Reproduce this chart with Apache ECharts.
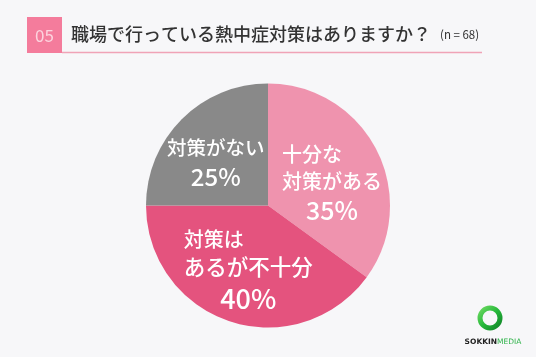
<!DOCTYPE html>
<html>
<head>
<meta charset="utf-8">
<script src="https://cdn.jsdelivr.net/npm/echarts@6/dist/echarts.min.js"></script>
<style>
  html, body { margin: 0; padding: 0; background: #f7f7f9; }
  #chart { width: 536px; height: 357px; }
</style>
</head>
<body>
<div id="chart"></div>
<script>
// Survey answers: does the workplace take measures against heatstroke? (n = 68)
const categories = ['十分な\n対策がある', '対策は\nあるが不十分', '対策がない'];
const shares = [35, 40, 25];
const sliceColors = ['#ef93ae', '#e4537e', '#898989'];
const percentSizes = [25, 27, 24];
const textSizes = [[20, 20], [20, 21.5], [19.5]];
const percentLineHeights = [32, 36, 31];
const labelOffsets = [[7, 7], [0, 5], [-7, 3]];

const FONT = '"Noto Sans CJK JP", "Noto Sans", sans-serif';

const chart = echarts.init(document.getElementById('chart'), null, { renderer: 'canvas' });

const pieData = categories.map((name, i) => {
  const rich = {
    p: { fontSize: percentSizes[i], lineHeight: percentLineHeights[i], color: '#fff', fontWeight: 500, fontFamily: FONT, align: 'center' }
  };
  textSizes[i].forEach((fs, k) => {
    rich['t' + k] = { fontSize: fs, lineHeight: 27, color: '#fff', fontWeight: 500, fontFamily: FONT, align: 'left' };
  });
  return {
    name: name,
    value: shares[i],
    itemStyle: { color: sliceColors[i] },
    label: { offset: labelOffsets[i], rich: rich }
  };
});

chart.setOption({
  backgroundColor: '#f7f7f9',
  animation: false,
  graphic: [
    // number badge
    { type: 'rect', shape: { x: 27, y: 17, width: 35, height: 36 }, style: { fill: '#f47c9c' } },
    { type: 'text', x: 44.5, y: 35.5, style: { text: '05', fill: '#fcd3de', font: '400 17px ' + FONT, align: 'center', verticalAlign: 'middle' } },
    // underline
    { type: 'line', shape: { x1: 62, y1: 52.5, x2: 482, y2: 52.5 }, style: { stroke: '#f0a3b7', lineWidth: 1.5 } },
    // heading
    { type: 'text', x: 71, y: 34, style: { text: '職場で行っている熱中症対策はありますか？', fill: '#333', font: '500 18px ' + FONT, verticalAlign: 'middle' } },
    { type: 'text', x: 440, y: 35, style: { text: '(n = 68)', fill: '#333', font: '400 11.5px ' + FONT, verticalAlign: 'middle' } },
    // publisher mark
    { type: 'ring', shape: { cx: 490, cy: 318, r: 12.5, r0: 7.5 },
      style: { fill: new echarts.graphic.LinearGradient(0, 0, 1, 1, [
        { offset: 0, color: '#7be06a' }, { offset: 0.5, color: '#26b83a' }, { offset: 1, color: '#0c7a25' }
      ]) } },
    { type: 'text', x: 493, y: 342, style: {
        text: '{a|SOKKIN}{b|MEDIA}', align: 'center', verticalAlign: 'middle',
        rich: {
          a: { fontSize: 7.5, fontWeight: 700, fill: '#222', fontFamily: '"DejaVu Sans", sans-serif' },
          b: { fontSize: 7.5, fontWeight: 400, fill: '#2fb34a', fontFamily: '"DejaVu Sans", sans-serif' }
        } } }
  ],
  series: [{
    type: 'pie',
    center: [268, 205.5],
    radius: [0, 122],
    startAngle: 90,
    clockwise: true,
    silent: true,
    label: {
      show: true,
      position: 'inside',
      formatter: p => {
        const lines = p.name.split('\n').map((s, k) => '{t' + k + '|' + s + '}');
        return lines.join('\n') + '\n{p|' + p.value + '%}';
      }
    },
    labelLine: { show: false },
    itemStyle: { borderWidth: 0 },
    data: pieData
  }]
});
</script>
</body>
</html>
